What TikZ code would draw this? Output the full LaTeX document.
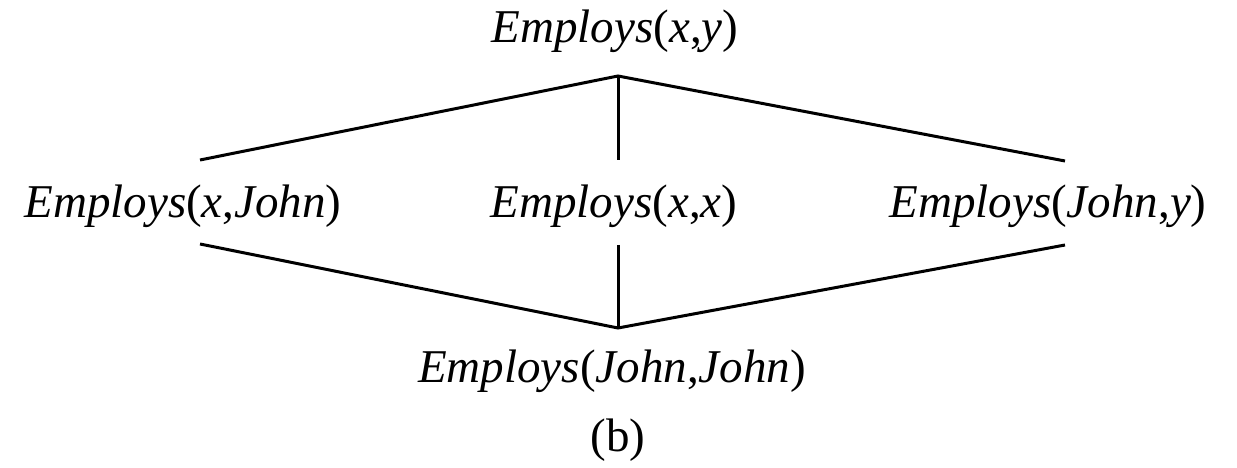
\documentclass[tikz,border=0pt]{standalone}
\usepackage{fontspec}
\setmainfont{Liberation Serif}
\begin{document}
\begin{tikzpicture}[x=1pt,y=1pt,
  term/.style={anchor=base,inner sep=0pt,font=\fontsize{47}{56}\selectfont},
  conn/.style={line width=3pt,black}]
\useasboundingbox (0,0) rectangle (1237,468);
\node[term] (top) at (615,425) {\textit{Employs}(\textit{x},\textit{y})};
\node[term] (left) at (183,250) {\textit{Employs}(\textit{x},\textit{John})};
\node[term] (mid) at (614,250) {\textit{Employs}(\textit{x},\textit{x})};
\node[term] (right) at (1048,250) {\textit{Employs}(\textit{John},\textit{y})};
\node[term] (bot) at (612,85) {\textit{Employs}(\textit{John},\textit{John})};
\node[term] (cap) at (618,16) {(b)};
\coordinate (topapex) at (618,392);
\coordinate (botapex) at (618,140);
\coordinate (lu) at (200,308);
\coordinate (mu) at (618,308);
\coordinate (ru) at (1065,307);
\coordinate (ll) at (200,224);
\coordinate (ml) at (618,223);
\coordinate (rl) at (1065,223);
\draw[conn] (lu) -- (topapex) -- (ru);
\draw[conn] (topapex) -- (mu);
\draw[conn] (ll) -- (botapex) -- (rl);
\draw[conn] (ml) -- (botapex);
\end{tikzpicture}
\end{document}
